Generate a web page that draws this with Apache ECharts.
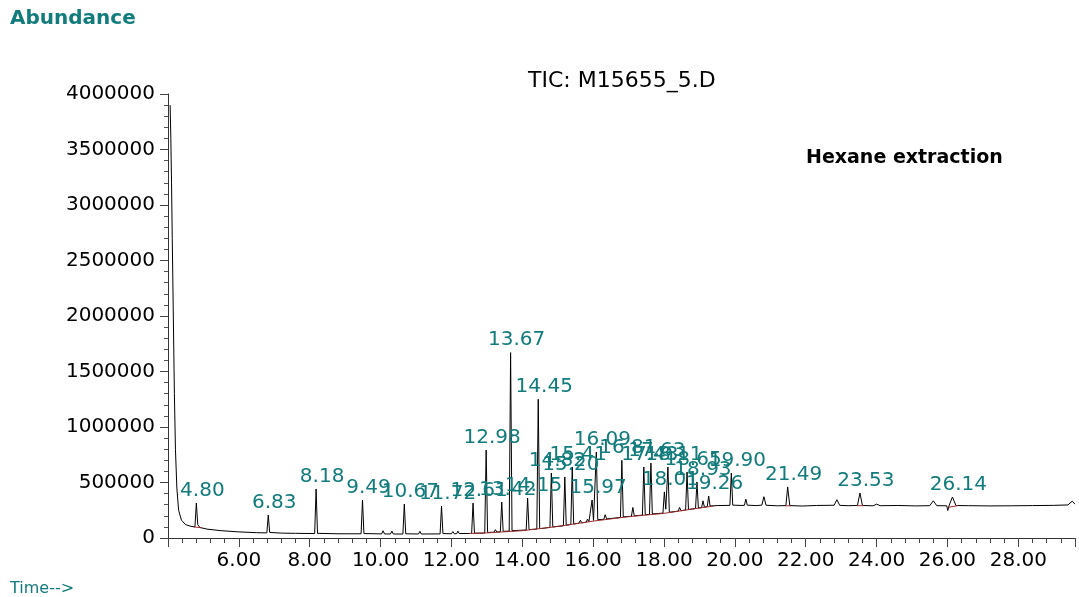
<!DOCTYPE html>
<html>
<head>
<meta charset="utf-8">
<title>TIC: M15655_5.D</title>
<script src="https://cdn.jsdelivr.net/npm/echarts@6/dist/echarts.min.js"></script>
<style>
  html, body { margin: 0; padding: 0; background: #fff; }
  #tic01 { width: 1079px; height: 597px; }
</style>
</head>
<body>
<div id="tic01"></div>
<script>
// retention time (min), abundance
var ticTrace = [
  [4.06, 3900000], [4.08, 3600000], [4.10, 3200000], [4.12, 2700000], [4.15, 2000000],
  [4.18, 1300000], [4.21, 800000], [4.25, 450000], [4.30, 250000], [4.38, 160000],
  [4.50, 120000], [4.65, 105000], [4.76, 100000], [4.80, 315000], [4.84, 120000],
  [4.90, 95000], [5.10, 80000], [5.50, 66000], [6.00, 55000], [6.50, 48000],
  [6.79, 46000], [6.83, 207000], [6.87, 50000], [7.20, 44000], [7.60, 42000],
  [8.14, 40000], [8.18, 441000], [8.22, 42000], [8.80, 38000], [9.45, 38000],
  [9.49, 342000], [9.53, 40000], [10.03, 37000], [10.07, 65000], [10.11, 37000],
  [10.28, 36000], [10.32, 62000], [10.36, 36000], [10.63, 36000], [10.67, 306000],
  [10.71, 38000], [11.07, 36000], [11.11, 60000], [11.15, 36000], [11.68, 37000],
  [11.72, 288000], [11.76, 40000], [12.00, 38000], [12.04, 58000], [12.08, 38000],
  [12.15, 39000], [12.18, 62000], [12.22, 40000], [12.57, 41000], [12.61, 315000],
  [12.65, 43000], [12.94, 44000], [12.98, 793000], [13.02, 50000], [13.20, 52000],
  [13.24, 75000], [13.28, 54000], [13.38, 56000], [13.42, 324000], [13.46, 60000],
  [13.63, 62000], [13.67, 1670000], [13.71, 66000], [14.11, 72000], [14.15, 360000],
  [14.19, 76000], [14.41, 80000], [14.45, 1250000], [14.49, 84000], [14.62, 88000],
  [14.65, 105000], [14.68, 92000], [14.78, 95000], [14.82, 585000], [14.86, 100000],
  [15.16, 110000], [15.20, 550000], [15.24, 115000], [15.37, 122000], [15.41, 640000],
  [15.45, 127000], [15.60, 133000], [15.64, 160000], [15.68, 137000], [15.80, 142000],
  [15.84, 170000], [15.88, 146000], [15.93, 150000], [15.97, 342000], [16.01, 158000],
  [16.05, 160000], [16.09, 775000], [16.13, 165000], [16.30, 168000], [16.34, 210000],
  [16.38, 172000], [16.77, 185000], [16.81, 700000], [16.85, 190000], [17.08, 196000],
  [17.12, 275000], [17.16, 200000], [17.39, 206000], [17.43, 640000], [17.47, 210000],
  [17.59, 213000], [17.63, 675000], [17.67, 217000], [17.97, 224000], [18.01, 415000],
  [18.05, 260000], [18.11, 640000], [18.15, 232000], [18.40, 242000], [18.44, 275000],
  [18.48, 246000], [18.61, 252000], [18.65, 595000], [18.69, 257000], [18.89, 266000],
  [18.93, 505000], [18.97, 270000], [19.06, 274000], [19.10, 335000], [19.14, 278000],
  [19.22, 282000], [19.26, 378000], [19.30, 288000], [19.50, 292000], [19.86, 294000],
  [19.90, 585000], [19.94, 296000], [20.20, 293000], [20.27, 295000], [20.31, 350000],
  [20.35, 296000], [20.60, 292000], [20.76, 296000], [20.82, 372000], [20.88, 295000],
  [21.20, 290000], [21.44, 292000], [21.49, 460000], [21.55, 292000], [21.90, 288000],
  [22.30, 293000], [22.80, 295000], [22.88, 345000], [22.96, 294000], [23.20, 291000],
  [23.46, 293000], [23.53, 405000], [23.60, 293000], [23.90, 290000], [24.00, 305000],
  [24.10, 291000], [24.60, 293000], [25.10, 289000], [25.50, 291000], [25.60, 335000],
  [25.70, 291000], [25.98, 290000], [26.01, 248000], [26.05, 296000], [26.14, 369000],
  [26.24, 293000], [26.60, 291000], [27.20, 289000], [27.80, 290000], [28.40, 292000],
  [29.00, 294000], [29.40, 298000], [29.52, 332000], [29.60, 305000]
];

// integration baseline (drawn in red under the peaks), '-' breaks the line
var baseLine = [
  [4.72, 100000], [4.96, 92000], [4.97, '-'],
  [12.50, 40000], [13.00, 46000], [14.00, 66000], [15.00, 104000], [16.00, 152000],
  [17.00, 192000], [18.00, 222000], [19.00, 270000], [19.40, 288000], [19.41, '-'],
  [21.42, 290000], [21.58, 290000], [21.59, '-'],
  [23.44, 291000], [23.64, 291000], [23.65, '-'],
  [26.02, 276000], [26.30, 292000]
];

var peakTimes = [4.80, 6.83, 8.18, 9.49, 10.67, 11.72, 12.61, 12.98, 13.42, 13.67,
  14.15, 14.45, 14.82, 15.20, 15.41, 15.97, 16.09, 16.81, 17.43, 17.63,
  18.01, 18.11, 18.65, 18.93, 19.26, 19.90, 21.49, 23.53, 26.14];
var peakApex = [315000, 207000, 441000, 342000, 306000, 288000, 315000, 793000, 324000, 1670000,
  360000, 1250000, 585000, 550000, 640000, 342000, 775000, 700000, 640000, 675000,
  415000, 640000, 595000, 505000, 378000, 585000, 460000, 405000, 369000];

var timeMin = 4, timeMax = 29.6, timeStep = 2;
var abundMax = 4000000, abundStep = 500000;

var teal = '#127b7b';
var font = 'DejaVu Sans';

tic01();
function tic01(){
  var myChart = echarts.init(document.getElementById('tic01'));
  var peaks = [];
  for (var i = 0; i < peakTimes.length; i++) {
    peaks.push([peakTimes[i], peakApex[i]]);
  }
  var option = {
    animation: false,
    backgroundColor: '#fff',
    grid: {
      left: 168,
      right: 4,
      top: 94,
      bottom: 59,
      containLabel: false,
      outerBoundsMode: 'none'
    },
    xAxis: {
      type: 'value',
      min: timeMin,
      max: timeMax,
      interval: timeStep,
      axisLine: { lineStyle: { color: '#333', width: 1 } },
      axisTick: { length: 9, lineStyle: { color: '#444' } },
      minorTick: { show: true, splitNumber: 5, length: 5, lineStyle: { color: '#444' } },
      splitLine: { show: false },
      axisLabel: {
        color: '#000',
        fontFamily: font,
        fontSize: 20,
        margin: 13,
        formatter: function (v) {
          if (v < 6 || v > 28 || v % 2 !== 0) return '';
          return v.toFixed(2);
        }
      }
    },
    yAxis: {
      type: 'value',
      min: 0,
      max: abundMax,
      interval: abundStep,
      axisLine: { show: true, lineStyle: { color: '#333', width: 1 } },
      axisTick: { show: true, length: 8, lineStyle: { color: '#444' } },
      minorTick: { show: true, splitNumber: 5, length: 4, lineStyle: { color: '#555' } },
      splitLine: { show: false },
      axisLabel: {
        color: '#000',
        fontFamily: font,
        fontSize: 20,
        margin: 13,
        formatter: function (v) { return String(v); }
      }
    },
    graphic: [
      { type: 'text', left: 10, top: 9,
        style: { text: 'Abundance', fill: teal, font: 'bold 20px "DejaVu Sans"' } },
      { type: 'text', left: 528, top: 70,
        style: { text: 'TIC: M15655_5.D', fill: '#000', font: '22px "DejaVu Sans"' } },
      { type: 'text', left: 806, top: 149,
        style: { text: 'Hexane extraction', fill: '#000', font: 'bold 19px "DejaVu Sans"' } },
      { type: 'text', left: 10, top: 581,
        style: { text: 'Time-->', fill: teal, font: '16px "DejaVu Sans"' } }
    ],
    series: [
      {
        name: 'TIC',
        type: 'line',
        data: ticTrace,
        symbol: 'none',
        lineStyle: { color: '#000', width: 1 },
        z: 2
      },
      {
        name: 'baseline',
        type: 'line',
        data: baseLine,
        symbol: 'none',
        connectNulls: false,
        lineStyle: { color: '#9a2b2b', width: 1 },
        z: 3
      },
      {
        name: 'peaks',
        type: 'scatter',
        data: peaks,
        symbolSize: 1,
        itemStyle: { color: '#000', opacity: 0 },
        label: {
          show: true,
          position: 'top',
          distance: 2,
          offset: [6, 0],
          color: teal,
          opacity: 1,
          fontFamily: font,
          fontSize: 20,
          formatter: function (p) { return p.value[0].toFixed(2); }
        },
        z: 4
      }
    ]
  };
  myChart.setOption(option);
}
</script>
</body>
</html>
